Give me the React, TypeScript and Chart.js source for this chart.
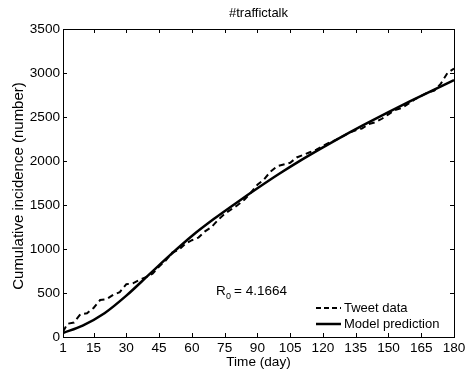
import React, { useEffect, useRef } from "react";
import { Chart, registerables } from "chart.js";
Chart.register(...registerables);

const titleText = "#traffictalk";
const xLabel = "Time (day)";
const yLabel = "Cumulative incidence (number)";
const legendLabels = ["Tweet data", "Model prediction"];
const xTicks = [1, 15, 30, 45, 60, 75, 90, 105, 120, 135, 150, 165, 180];
const yTicks = [0, 500, 1000, 1500, 2000, 2500, 3000, 3500];

const tweetDays = [1, 3, 6, 9, 12, 15, 18, 21, 24, 27, 30, 33, 36, 39, 42, 45, 48, 51, 54, 57, 60, 63, 66, 69, 72, 75, 78, 81, 84, 87, 90, 93, 96, 99, 102, 105, 108, 111, 114, 117, 120, 123, 126, 129, 132, 135, 138, 141, 144, 147, 150, 153, 156, 159, 162, 165, 168, 171, 174, 177, 180];
const tweetValues = [60, 150, 165, 260, 270, 330, 420, 430, 480, 510, 600, 610, 650, 680, 720, 800, 870, 960, 990, 1060, 1100, 1130, 1200, 1250, 1330, 1400, 1450, 1500, 1560, 1640, 1730, 1790, 1880, 1940, 1960, 1980, 2040, 2070, 2100, 2130, 2170, 2210, 2240, 2280, 2320, 2350, 2370, 2420, 2440, 2480, 2530, 2580, 2600, 2650, 2700, 2740, 2780, 2800, 2880, 3000, 3050];

const modelDays = [1, 10, 20, 30, 40, 50, 60, 70, 80, 90, 100, 110, 120, 130, 140, 150, 160, 170, 180];
const modelValues = [45, 130, 270, 470, 700, 930, 1148, 1340, 1518, 1690, 1855, 2010, 2155, 2295, 2428, 2556, 2680, 2800, 2920];

const FONT = "'Liberation Sans', Arial, Helvetica, sans-serif";

export default function App() {
  const ref = useRef<HTMLCanvasElement>(null);
  useEffect(() => {
    document.body.style.margin = "0";
    const canvas = ref.current;
    if (!canvas) return;

    const decor = {
      id: "decor",
      afterDraw(chart: any) {
        const ctx = chart.ctx as CanvasRenderingContext2D;
        const { left, right, top, bottom } = chart.chartArea;
        const xs = chart.scales.x;
        const ys = chart.scales.y;
        ctx.save();
        ctx.strokeStyle = "#000";
        ctx.lineWidth = 1;
        ctx.strokeRect(Math.round(left) + 0.5, Math.round(top) + 0.5, Math.round(right - left), Math.round(bottom - top));
        const tl = 4;
        ctx.beginPath();
        xTicks.forEach((v) => {
          const px = Math.round(xs.getPixelForValue(v)) + 0.5;
          ctx.moveTo(px, bottom);
          ctx.lineTo(px, bottom - tl);
          ctx.moveTo(px, top);
          ctx.lineTo(px, top + tl);
        });
        yTicks.forEach((v) => {
          const py = Math.round(ys.getPixelForValue(v)) + 0.5;
          ctx.moveTo(left, py);
          ctx.lineTo(left + tl, py);
          ctx.moveTo(right, py);
          ctx.lineTo(right - tl, py);
        });
        ctx.stroke();

        ctx.fillStyle = "#000";
        ctx.textAlign = "center";
        ctx.textBaseline = "middle";
        ctx.font = `13px ${FONT}`;
        ctx.fillText(titleText, (left + right) / 2, 13);
        ctx.font = `13.6px ${FONT}`;
        ctx.fillText(xLabel, (left + right) / 2, 362);
        ctx.save();
        ctx.translate(19, 186);
        ctx.rotate(-Math.PI / 2);
        ctx.font = `15px ${FONT}`;
        ctx.fillText(yLabel, 0, 0);
        ctx.restore();

        ctx.textAlign = "left";
        ctx.textBaseline = "alphabetic";
        ctx.font = `13.5px ${FONT}`;
        ctx.fillText("R", 216, 295);
        ctx.font = `9px ${FONT}`;
        ctx.fillText("0", 226, 299);
        ctx.font = `13.5px ${FONT}`;
        ctx.fillText("= 4.1664", 234, 295);

        const ly = [308, 324];
        ctx.lineWidth = 2;
        ctx.beginPath();
        ctx.setLineDash([5, 3]);
        ctx.moveTo(316, ly[0]);
        ctx.lineTo(341, ly[0]);
        ctx.stroke();
        ctx.beginPath();
        ctx.setLineDash([]);
        ctx.lineWidth = 2.5;
        ctx.moveTo(316, ly[1]);
        ctx.lineTo(341, ly[1]);
        ctx.stroke();
        ctx.textBaseline = "middle";
        ctx.font = `13px ${FONT}`;
        ctx.fillText(legendLabels[0], 344, ly[0]);
        ctx.fillText(legendLabels[1], 344, ly[1]);
        ctx.restore();
      },
    };

    const chart = new Chart(canvas, {
      type: "line",
      data: {
        datasets: [
          {
            label: legendLabels[0],
            data: tweetDays.map((d, i) => ({ x: d, y: tweetValues[i] })),
            borderColor: "#000",
            borderWidth: 2,
            borderDash: [6, 4],
            pointRadius: 0,
            tension: 0,
            fill: false,
          },
          {
            label: legendLabels[1],
            data: modelDays.map((d, i) => ({ x: d, y: modelValues[i] })),
            borderColor: "#000",
            borderWidth: 2.5,
            pointRadius: 0,
            cubicInterpolationMode: "monotone",
            fill: false,
          },
        ],
      },
      options: {
        responsive: false,
        animation: false,
        layout: { padding: { top: 29, right: 19, left: 0, bottom: 0 } },
        plugins: { legend: { display: false }, title: { display: false }, tooltip: { enabled: false } },
        scales: {
          x: {
            type: "linear",
            min: 1,
            max: 180,
            afterBuildTicks: (s: any) => {
              s.ticks = xTicks.map((v) => ({ value: v }));
            },
            afterFit: (s: any) => {
              s.height = 35;
            },
            grid: { display: false, drawTicks: false },
            border: { display: false },
            ticks: { color: "#000", font: { family: FONT, size: 13.6 }, padding: 3, maxRotation: 0, autoSkip: false, callback: (v: any) => String(v) },
          },
          y: {
            type: "linear",
            min: 0,
            max: 3500,
            afterBuildTicks: (s: any) => {
              s.ticks = yTicks.map((v) => ({ value: v }));
            },
            afterFit: (s: any) => {
              s.width = 63;
            },
            grid: { display: false, drawTicks: false },
            border: { display: false },
            ticks: { color: "#000", font: { family: FONT, size: 13.6 }, padding: 3, callback: (v: any) => String(v) },
          },
        },
      },
      plugins: [decor],
    } as any);
    return () => chart.destroy();
  }, []);
  return <canvas ref={ref} width={473} height={372} style={{ display: "block" }} />;
}
